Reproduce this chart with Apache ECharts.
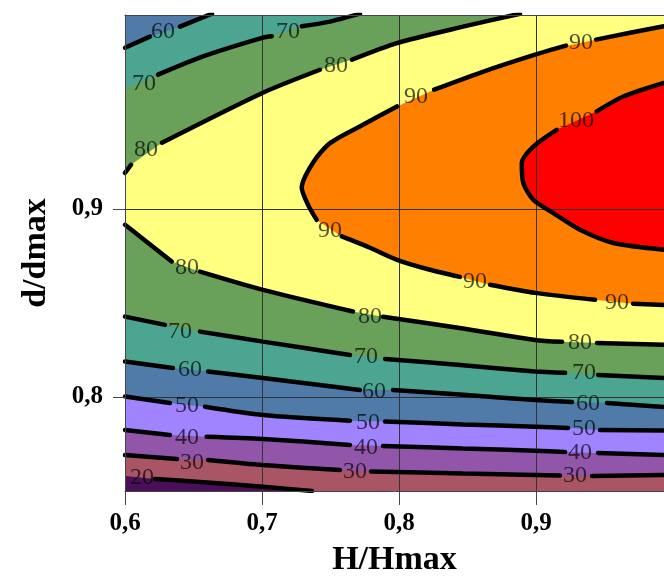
<!DOCTYPE html>
<html>
<head>
<meta charset="utf-8">
<script src="https://cdn.jsdelivr.net/npm/echarts@6/dist/echarts.min.js"></script>
<style>
  html, body { margin: 0; padding: 0; background: #ffffff; overflow: hidden; }
  #chart { width: 664px; height: 577px; }
</style>
</head>
<body>
<div id="chart"></div>
<script>
// ---------- data ----------
const X_MIN = 0.6, X_MAX = 0.9934, Y_MIN = 0.75, Y_MAX = 1.003;
const xTicks = [0.6, 0.7, 0.8, 0.9];
const yTicks = [0.8, 0.9];
const xGridValues = [0.7, 0.8, 0.9];
const yGridValues = [0.8, 0.9];
const contourLevels = [20, 30, 40, 50, 60, 70, 80, 90, 100];

// contour lines [H/Hmax, d/dmax]; null = break where a label sits
const line20 = [[0.6000,0.7580], null, [0.6219,0.7564],[0.6547,0.7548],[0.7007,0.7523],[0.7365,0.7500]];
const line30 = [[0.6000,0.7691],[0.6380,0.7670], null, [0.6606,0.7665],[0.7007,0.7638],[0.7569,0.7612], null,
  [0.7796,0.7604],[0.8467,0.7593],[0.8993,0.7585],[0.9175,0.7582], null, [0.9409,0.7580],[0.9934,0.7585]];
const line40 = [[0.6000,0.7824],[0.6328,0.7798], null, [0.6596,0.7789],[0.7007,0.7777],[0.7642,0.7745], null,
  [0.7883,0.7739],[0.8467,0.7726],[0.8993,0.7714],[0.9212,0.7707], null, [0.9453,0.7702],[0.9934,0.7691]];
const line50 = [[0.6000,0.8002],[0.6328,0.7968], null, [0.6584,0.7948],[0.7007,0.7904],[0.7642,0.7874], null,
  [0.7898,0.7869],[0.8467,0.7854],[0.8993,0.7842],[0.9234,0.7835], null, [0.9467,0.7824],[0.9934,0.7821]];
const line60lo = [[0.6000,0.8188],[0.6350,0.8154], null, [0.6606,0.8135],[0.7007,0.8101],[0.7715,0.8037], null,
  [0.7956,0.8037],[0.8467,0.8011],[0.8993,0.7984],[0.9263,0.7973], null, [0.9518,0.7968],[0.9934,0.7947]];
const line70lo = [[0.6000,0.8427],[0.6292,0.8383], null, [0.6547,0.8347],[0.7007,0.8294],[0.7642,0.8223], null,
  [0.7898,0.8202],[0.8467,0.8168],[0.8993,0.8135],[0.9212,0.8128], null, [0.9453,0.8117],[0.9934,0.8101]];
const line80lo = [[0.6000,0.8915],[0.6109,0.8853],[0.6341,0.8720], null, [0.6547,0.8666],[0.7007,0.8569],[0.7664,0.8454], null,
  [0.7883,0.8426],[0.8467,0.8364],[0.8993,0.8303],[0.9190,0.8293], null, [0.9445,0.8287],[0.9934,0.8277]];
const line60hi = [[0.6000,0.9856],[0.6182,0.9915], null, [0.6401,0.9968],[0.6635,1.0037]];
const line70hi = [[0.6000,0.9638], null, [0.6241,0.9713],[0.6569,0.9810],[0.7007,0.9910],[0.7071,0.9917], null,
  [0.7290,0.9970],[0.7496,0.9995],[0.7715,1.0037]];
const line80hi = [[0.6000,0.9191],[0.6044,0.9234], null, [0.6270,0.9351],[0.7007,0.9617],[0.7423,0.9739], null,
  [0.7657,0.9793],[0.7985,0.9881],[0.8467,0.9968],[0.8883,1.0037]];
const line90 = [[0.9934,0.9970],[0.9686,0.9936],[0.9438,0.9899], null, [0.9219,0.9867],[0.8993,0.9819],[0.8591,0.9723],[0.8256,0.9633], null,
  [0.7985,0.9544],[0.7737,0.9447],[0.7496,0.9349],[0.7372,0.9245],[0.7290,0.9112],[0.7336,0.9021],[0.7399,0.8941], null,
  [0.7582,0.8853],[0.7788,0.8793],[0.7985,0.8729],[0.8226,0.8676],[0.8445,0.8638], null,
  [0.8664,0.8596],[0.8993,0.8553],[0.9431,0.8516], null, [0.9708,0.8495],[0.9934,0.8489]];
const line100 = [[0.9934,0.9669],[0.9637,0.9597],[0.9443,0.9518], null, [0.9151,0.9420],[0.8980,0.9331],[0.8896,0.9243],
  [0.8907,0.9137],[0.8980,0.9048],[0.9126,0.8977],[0.9321,0.8888],[0.9564,0.8818],[0.9934,0.8782]];

// contour labels [H/Hmax, d/dmax, level]
const contourLabels = [
  [0.6124,0.7569,20],
  [0.6489,0.7649,30],[0.7679,0.7601,30],[0.9285,0.7580,30],
  [0.6453,0.7782,40],[0.7759,0.7729,40],[0.9321,0.7702,40],
  [0.6453,0.7952,50],[0.7774,0.7862,50],[0.9351,0.7830,50],
  [0.6474,0.8144,60],[0.7818,0.8027,60],[0.9380,0.7963,60],
  [0.6401,0.8346,70],[0.7759,0.8213,70],[0.9351,0.8128,70],
  [0.6453,0.8686,80],[0.7788,0.8426,80],[0.9321,0.8287,80],
  [0.6277,0.9941,60],
  [0.6139,0.9665,70],[0.7190,0.9941,70],
  [0.6153,0.9314,80],[0.7540,0.9761,80],
  [0.9328,0.9883,90],[0.8124,0.9596,90],[0.7496,0.8883,90],[0.8555,0.8612,90],[0.9591,0.8500,90],
  [0.9292,0.9468,100]
];

// ---------- styling ----------
const bandColors = ['#4b0f5a','#a95566','#9155aa','#a083ff','#507aa8','#4ba591','#69a05a','#ffff80','#ff8000','#ff0000'];
const regions = [
  null,
  { lo: line20 }, { lo: line30 }, { lo: line40 }, { lo: line50 },
  { lo: line60lo, hi: line60hi }, { lo: line70lo, hi: line70hi }, { lo: line80lo, hi: line80hi },
  { loop: line90 }, { loop: line100 }
];
const allLines = [line20, line30, line40, line50, line60lo, line70lo, line80lo, line60hi, line70hi, line80hi, line90, line100];

function pts(a) { return a.filter(p => p); }
function clampP(p) {
  return [Math.min(X_MAX, Math.max(X_MIN, p[0])), Math.min(Y_MAX, Math.max(Y_MIN, p[1]))];
}
function regionPolygon(i) {
  const r = regions[i];
  if (!r) return [[X_MIN, Y_MIN], [X_MAX, Y_MIN], [X_MAX, Y_MAX], [X_MIN, Y_MAX]];
  if (r.loop) {
    const a = pts(r.loop);
    return a.concat([[X_MAX, a[a.length - 1][1]], [X_MAX, a[0][1]]]);
  }
  const lo = pts(r.lo);
  let poly = lo.concat([[X_MAX, lo[lo.length - 1][1]], [X_MAX, Y_MAX]]);
  if (r.hi) {
    const hi = pts(r.hi).slice().reverse();
    poly = poly.concat([[hi[0][0], Y_MAX]], hi);
  } else {
    poly.push([X_MIN, Y_MAX]);
  }
  return poly;
}
function segments(a) {
  const out = []; let cur = [];
  a.forEach(p => { if (p) cur.push(p); else { if (cur.length) out.push(cur); cur = []; } });
  if (cur.length) out.push(cur);
  return out;
}

const serif = "'Liberation Serif', 'Times New Roman', serif";
const series = [];

series.push({
  type: 'custom', name: 'bands', coordinateSystem: 'cartesian2d', clip: true, silent: true, z: 1,
  data: bandColors.map((c, i) => [X_MIN, Y_MIN, i]),
  encode: { x: 0, y: 1 },
  renderItem: function (params, api) {
    const i = params.dataIndex;
    const poly = regionPolygon(i).map(p => api.coord(clampP(p)));
    return { type: 'polygon', z2: i, shape: { points: poly }, style: { fill: bandColors[i], stroke: null } };
  }
});

series.push({
  type: 'custom', name: 'vgrid', coordinateSystem: 'cartesian2d', silent: true, z: 2,
  data: xGridValues.map(v => [v, Y_MIN]),
  encode: { x: 0, y: 1 },
  renderItem: function (params, api) {
    const a = api.coord([api.value(0), Y_MIN]), b = api.coord([api.value(0), Y_MAX]);
    return { type: 'line', shape: { x1: Math.round(a[0]) + 0.5, y1: a[1], x2: Math.round(b[0]) + 0.5, y2: b[1] },
      style: { stroke: '#333', lineWidth: 1 } };
  }
});
series.push({
  type: 'custom', name: 'hgrid', coordinateSystem: 'cartesian2d', silent: true, z: 2,
  data: yGridValues.map(v => [X_MIN, v]),
  encode: { x: 0, y: 1 },
  renderItem: function (params, api) {
    const a = api.coord([X_MIN, api.value(1)]), b = api.coord([X_MAX, api.value(1)]);
    return { type: 'line', shape: { x1: a[0], y1: Math.round(a[1]) + 0.5, x2: b[0], y2: Math.round(b[1]) + 0.5 },
      style: { stroke: '#333', lineWidth: 1 } };
  }
});

allLines.forEach(l => {
  segments(l).forEach(seg => {
    if (seg.length > 1) {
      series.push({
        type: 'line', data: seg, smooth: 0.25, symbol: 'none', silent: true, z: 3,
        lineStyle: { color: '#000', width: 4.5, cap: 'round' }
      });
    }
  });
});

series.push({
  type: 'scatter', name: 'labels', data: contourLabels, symbolSize: 0, silent: true, z: 4,
  label: {
    show: true, position: 'inside', formatter: p => String(p.value[2]),
    fontFamily: serif, fontSize: 24, color: 'rgba(0,0,0,0.85)'
  }
});

const chart = echarts.init(document.getElementById('chart'), null, { renderer: 'canvas' });
chart.setOption({
  animation: false,
  backgroundColor: '#ffffff',
  grid: { left: 125, right: 0, top: 15, bottom: 86, containLabel: false, outerBoundsMode: 'none' },
  xAxis: [{
    type: 'value', min: X_MIN, max: X_MAX, position: 'bottom', z: 10,
    axisLine: { show: true, onZero: false, lineStyle: { color: '#444', width: 1 } },
    axisTick: { show: true, customValues: xTicks, length: 14, inside: false, lineStyle: { color: '#444' } },
    axisLabel: { customValues: xTicks, formatter: v => Number(v).toFixed(1).replace('.', ','),
      fontFamily: serif, fontWeight: 'bold', fontSize: 25, color: '#000', margin: 20 },
    splitLine: { show: false },
    name: 'H/Hmax', nameLocation: 'middle', nameGap: 52,
    nameTextStyle: { fontFamily: serif, fontWeight: 'bold', fontSize: 34, color: '#000' }
  }, {
    type: 'value', min: X_MIN, max: X_MAX, position: 'top', z: 10,
    axisLine: { show: true, onZero: false, lineStyle: { color: '#444', width: 1 } },
    axisTick: { show: false }, axisLabel: { show: false }, splitLine: { show: false }
  }],
  yAxis: [{
    type: 'value', min: Y_MIN, max: Y_MAX, position: 'left', z: 10,
    axisLine: { show: true, onZero: false, lineStyle: { color: '#444', width: 1 } },
    axisTick: { show: true, customValues: yTicks, length: 12, inside: false, lineStyle: { color: '#444' } },
    axisLabel: { customValues: yTicks, formatter: v => Number(v).toFixed(1).replace('.', ','),
      fontFamily: serif, fontWeight: 'bold', fontSize: 25, color: '#000', margin: 22 },
    splitLine: { show: false },
    name: 'd/dmax', nameLocation: 'middle', nameGap: 72, nameRotate: 90,
    nameTextStyle: { fontFamily: serif, fontWeight: 'bold', fontSize: 34, color: '#000' }
  }],
  series: series
});
</script>
</body>
</html>
